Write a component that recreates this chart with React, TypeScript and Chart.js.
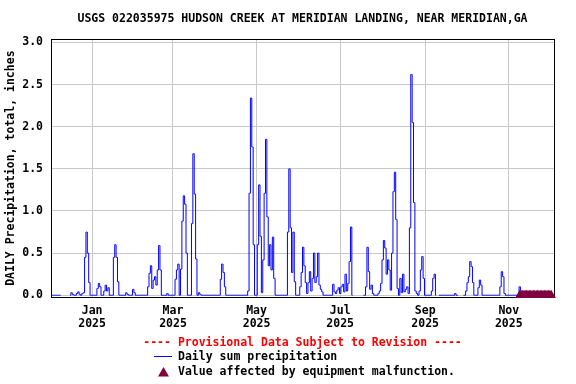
import { useEffect, useRef } from "react";
import { Chart, registerables } from "chart.js";

Chart.register(...registerables);

const TITLE = "USGS 022035975 HUDSON CREEK AT MERIDIAN LANDING, NEAR MERIDIAN,GA";
const Y_TITLE = "DAILY Precipitation, total, inches";
const NOTE = "---- Provisional Data Subject to Revision ----";
const LEGEND_LINE = "Daily sum precipitation";
const LEGEND_MARK = "Value affected by equipment malfunction.";

const X_MIN_DATE = "2024-12-02";
const X_MAX_DATE = "2025-12-04";
const xTickDates = ["2025-01-01", "2025-03-01", "2025-05-01", "2025-07-01", "2025-09-01", "2025-11-01"];
const xTickLabels = [["Jan", "2025"], ["Mar", "2025"], ["May", "2025"], ["Jul", "2025"], ["Sep", "2025"], ["Nov", "2025"]];
const yTickValues = [0, 0.5, 1.0, 1.5, 2.0, 2.5, 3.0];

// Daily precipitation (inches); null = missing data
const dec2024 = [0, 0, 0, 0, 0, 0, 0, 0, null, null, null, null, null, null, 0, 0.03, 0.01, 0, 0, 0.02, 0.04, 0.01, 0, 0.02, 0.03, 0.45, 0.75, 0.5, 0.15, 0];
const jan2025 = [0, 0, 0, 0, 0.08, 0.14, 0.1, 0, 0, 0.05, 0.12, 0.05, 0.09, 0, 0, 0, 0.45, 0.6, 0.45, 0.16, 0, 0, 0, 0, 0, 0.03, 0.01, 0, 0, 0, 0.07];
const feb2025 = [0.03, 0, 0, 0, 0, 0, 0, 0, 0, 0, 0.1, 0.26, 0.35, 0.08, 0.18, 0.22, 0.12, 0.3, 0.59, 0.3, 0, 0, 0, 0, 0.02, 0, 0, 0];
const mar2025 = [0, 0, 0.19, 0.3, 0.37, 0, 0.31, 0.88, 1.18, 1.08, 0.5, 0, 0, 0, 0.85, 1.68, 1.2, 0.43, 0, 0.03, 0.01, 0, 0, 0, 0, 0, 0, 0, 0, 0, 0];
const apr2025 = [0, 0, 0, 0, 0.19, 0.37, 0.27, 0.1, 0, 0, 0, 0, 0, 0, 0, 0, 0, 0, 0, 0, 0, 0, 0, 0, 0.05, 1.21, 2.34, 1.76, 0.6, 0];
const may2025 = [0, 0.6, 1.31, 0.7, 0.03, 0.42, 1.21, 1.85, 0.93, 0.35, 0.6, 0.3, 0.69, 0.2, 0, 0, 0, 0, 0, 0, 0, 0, 0, 0.75, 1.5, 0.8, 0.27, 0.75, 0.16, 0, 0];
const jun2025 = [0, 0.1, 0.27, 0.57, 0.35, 0.15, 0.02, 0.15, 0.28, 0.05, 0.2, 0.5, 0.15, 0.22, 0.5, 0.12, 0.07, 0.04, 0, 0, 0, 0, 0, 0, 0, 0.13, 0.04, 0.02, 0.06, 0.09];
const jul2025 = [0.02, 0.1, 0.13, 0.04, 0.25, 0.05, 0.14, 0.4, 0.81, 0, null, null, null, null, null, null, null, 0, 0, 0.1, 0.57, 0.28, 0.07, 0.12, 0.02, 0, 0, 0, 0.02, 0.05, 0.14];
const aug2025 = [0.42, 0.65, 0.56, 0.25, 0.42, 0.3, 0.06, 0.5, 1.23, 1.46, 0.9, 0.08, 0, 0.2, 0.03, 0.25, 0.04, 0.07, 0.1, 0.02, 0.8, 2.62, 2.05, 1.1, 0.05, 0.02, 0, 0.05, 0.3, 0.46, 0.2];
const sep2025 = [0, 0, 0, 0, 0, 0.05, 0.2, 0.25, 0, null, 0, 0, 0, 0, 0, 0, 0, 0, 0, 0, 0, 0, 0.02, 0, 0, null, null, null, 0, 0];
const oct2025 = [0.05, 0.15, 0.22, 0.4, 0.34, 0.15, 0, 0, 0, 0.09, 0.18, 0.12, 0, 0, 0, 0, 0, 0, 0, 0, 0, 0, 0, 0, 0, 0.1, 0.28, 0.22, 0.02, 0, 0];
const nov2025 = [0, 0, 0, 0, 0, 0, 0, 0, 0.1, 0, 0, 0, 0, 0, 0, 0, 0, 0, 0, 0, 0, 0, 0, 0, 0, 0, 0, 0, 0, 0];
const dec2025 = [0, 0];

// Days flagged as affected by equipment malfunction (value shown at 0)
const malfunctionNov2025 = [null, null, null, null, null, null, null, null, 0, 0, 0, 0, 0, 0, 0, 0, 0, 0, 0, 0, 0, 0, 0, 0, 0, 0, 0, 0, 0, 0];
const malfunctionDec2025 = [0, 0];

const precipMonths: [string, (number | null)[]][] = [
  ["2024-12-02", dec2024], ["2025-01-01", jan2025], ["2025-02-01", feb2025], ["2025-03-01", mar2025],
  ["2025-04-01", apr2025], ["2025-05-01", may2025], ["2025-06-01", jun2025], ["2025-07-01", jul2025],
  ["2025-08-01", aug2025], ["2025-09-01", sep2025], ["2025-10-01", oct2025], ["2025-11-01", nov2025],
  ["2025-12-01", dec2025],
];
const malfunctionMonths: [string, (number | null)[]][] = [
  ["2025-11-01", malfunctionNov2025], ["2025-12-01", malfunctionDec2025],
];

const BASE = Date.UTC(2025, 0, 1);
function dayIndex(s: string): number {
  const [y, m, d] = s.split("-").map(Number);
  return Math.round((Date.UTC(y, m - 1, d) - BASE) / 86400000);
}
function toPoints(months: [string, (number | null)[]][]) {
  const pts: { x: number; y: number | null }[] = [];
  months.forEach(([start, vals]) => {
    const s = dayIndex(start);
    vals.forEach((v, i) => pts.push({ x: s + i, y: v }));
  });
  return pts;
}

const FONT_FAMILY = "'DejaVu Sans Mono', monospace";
const MAROON = "#800040";

export default function App() {
  const ref = useRef<HTMLCanvasElement | null>(null);

  useEffect(() => {
    document.body.style.margin = "0";
    const canvas = ref.current;
    if (!canvas) return;

    const frame = {
      id: "frame",
      beforeDatasetsDraw(chart: any) {
        const { ctx, chartArea } = chart;
        const l = Math.round(chartArea.left), t = Math.round(chartArea.top);
        const r = Math.round(chartArea.right), b = Math.round(chartArea.bottom);
        ctx.save();
        ctx.strokeStyle = "#000";
        ctx.lineWidth = 1;
        ctx.strokeRect(l + 0.5, t + 0.5, r - l, b - t);
        ctx.restore();
      },
    };

    const notes = {
      id: "notes",
      afterDraw(chart: any) {
        const { ctx, chartArea } = chart;
        const cx = (chartArea.left + chartArea.right) / 2;
        ctx.save();
        ctx.font = `bold 11.5px ${FONT_FAMILY}`;
        ctx.textBaseline = "middle";
        ctx.textAlign = "center";
        ctx.fillStyle = "#ff0000";
        ctx.fillText(NOTE, cx, 343);
        ctx.textAlign = "left";
        ctx.strokeStyle = "#0000ff";
        ctx.lineWidth = 1;
        ctx.beginPath();
        ctx.moveTo(154, 356.5);
        ctx.lineTo(172, 356.5);
        ctx.stroke();
        ctx.fillStyle = "#000";
        ctx.fillText(LEGEND_LINE, 178, 357);
        ctx.fillStyle = MAROON;
        ctx.beginPath();
        ctx.moveTo(163.5, 367);
        ctx.lineTo(169, 376.5);
        ctx.lineTo(158, 376.5);
        ctx.closePath();
        ctx.fill();
        ctx.fillStyle = "#000";
        ctx.fillText(LEGEND_MARK, 178, 372.5);
        ctx.restore();
      },
    };

    const font = { family: FONT_FAMILY, size: 11.5, weight: "bold" as const };

    const chart = new Chart(canvas, {
      type: "line",
      data: {
        datasets: [
          {
            label: LEGEND_MARK,
            data: toPoints(malfunctionMonths) as any,
            showLine: false,
            pointStyle: "triangle",
            pointRadius: 5.4,
            pointBackgroundColor: MAROON,
            pointBorderColor: MAROON,
            pointBorderWidth: 0,
            clip: false as any,
          },
          {
            label: LEGEND_LINE,
            data: toPoints(precipMonths) as any,
            borderColor: "#0000ff",
            borderWidth: 1,
            pointRadius: 0,
            stepped: "middle",
            spanGaps: false,
            fill: false,
          },
        ],
      },
      options: {
        animation: false,
        responsive: false,
        events: [],
        layout: { padding: { left: 0, right: 22, top: 0, bottom: 47 } },
        plugins: {
          legend: { display: false },
          tooltip: { enabled: false },
          title: {
            display: true,
            text: TITLE,
            color: "#000",
            font,
            fullSize: false,
            padding: { top: 12.5, bottom: 13 },
          },
        },
        scales: {
          x: {
            type: "linear",
            min: dayIndex(X_MIN_DATE),
            max: dayIndex(X_MAX_DATE),
            afterBuildTicks(scale: any) {
              scale.ticks = xTickDates.map((d) => ({ value: dayIndex(d) }));
            },
            afterFit(scale: any) {
              scale.height = 40;
            },
            ticks: {
              autoSkip: false,
              maxRotation: 0,
              color: "#000",
              padding: 7.25,
              font: { ...font, lineHeight: 1.17 },
              callback: (_v: any, i: number) => xTickLabels[i],
            },
            grid: { color: "#c8c8c8", lineWidth: 1, drawTicks: false },
            border: { display: false },
          },
          y: {
            type: "linear",
            min: -0.021,
            max: 3.038,
            afterBuildTicks(scale: any) {
              scale.ticks = yTickValues.map((v) => ({ value: v }));
            },
            afterFit(scale: any) {
              scale.width = 51;
            },
            ticks: {
              color: "#000",
              padding: 8,
              font,
              callback: (v: any) => Number(v).toFixed(1),
            },
            grid: { color: "#c8c8c8", lineWidth: 1, drawTicks: false },
            border: { display: false },
            title: {
              display: true,
              text: Y_TITLE,
              color: "#000",
              font,
              padding: { top: 4.6, bottom: 0 },
            },
          },
        },
      },
      plugins: [frame, notes],
    });

    return () => chart.destroy();
  }, []);

  return (
    <div style={{ width: 576, height: 384 }}>
      <canvas ref={ref} width={576} height={384} style={{ display: "block" }} />
    </div>
  );
}
